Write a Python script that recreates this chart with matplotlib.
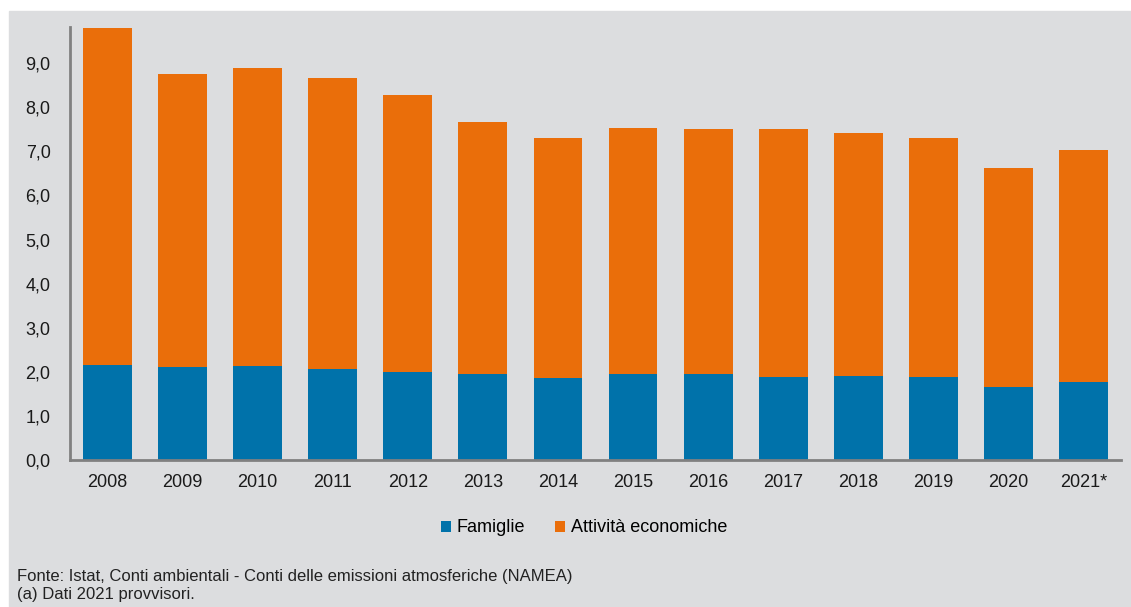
import matplotlib.pyplot as plt
from matplotlib.patches import Rectangle
from matplotlib.ticker import FuncFormatter

# emissioni per anno: famiglie + attività economiche
anni = ["2008", "2009", "2010", "2011", "2012", "2013", "2014",
        "2015", "2016", "2017", "2018", "2019", "2020", "2021*"]
famiglie = [2.15, 2.11, 2.13, 2.06, 2.00, 1.95, 1.86,
            1.95, 1.95, 1.88, 1.90, 1.88, 1.66, 1.77]
totale = [9.80, 8.75, 8.89, 8.66, 8.28, 7.66, 7.30,
          7.53, 7.51, 7.51, 7.41, 7.30, 6.62, 7.03]
attivita = [t - f for t, f in zip(totale, famiglie)]

blu = "#0072aa"
arancio = "#ea6e0a"
grigio = "#dcdddf"

plt.rcParams['font.family'] = ['Liberation Sans', 'DejaVu Sans']

fig = plt.figure(figsize=(11.31, 6.07), dpi=100, facecolor="white")
fig.patches.append(Rectangle((9 / 1131, 0), 1, 1 - 11 / 607,
                             transform=fig.transFigure, color=grigio, zorder=-10))

ax = fig.add_axes([70 / 1131, 1 - 460 / 607, (1121 - 70) / 1131, (460 - 27) / 607])
ax.set_facecolor("none")

x = range(len(anni))
ax.bar(x, famiglie, width=0.65, color=blu, label="Famiglie")
ax.bar(x, attivita, width=0.65, bottom=famiglie, color=arancio, label="Attività economiche")

ax.set_xlim(-0.5, 13.5)
ax.set_ylim(0, 9.82)
ax.set_yticks([i for i in range(10)])
ax.yaxis.set_major_formatter(FuncFormatter(lambda v, p: f"{v:.1f}".replace(".", ",")))
ax.set_xticks(list(x))
ax.set_xticklabels(anni)
ax.tick_params(length=0, labelsize=13, colors="#1a1a1a", pad=10)
ax.tick_params(axis="y", pad=14)
for s in ["top", "right"]:
    ax.spines[s].set_visible(False)
for s in ["left", "bottom"]:
    ax.spines[s].set_color("#808080")
    ax.spines[s].set_linewidth(2)

fig.legend(loc="center", bbox_to_anchor=(584 / 1131, 1 - 528 / 607), ncol=2,
           frameon=False, fontsize=13, handlelength=0.55, handleheight=0.55,
           handletextpad=0.3, columnspacing=1.7)

fig.text(17 / 1131, 1 - 576 / 607, "Fonte: Istat, Conti ambientali - Conti delle emissioni atmosferiche (NAMEA)",
         fontsize=12, color="#222222", va="center")
fig.text(17 / 1131, 1 - 595 / 607, "(a) Dati 2021 provvisori.",
         fontsize=12, color="#222222", va="center")

fig.savefig("out.png", dpi=100, facecolor=fig.get_facecolor())
